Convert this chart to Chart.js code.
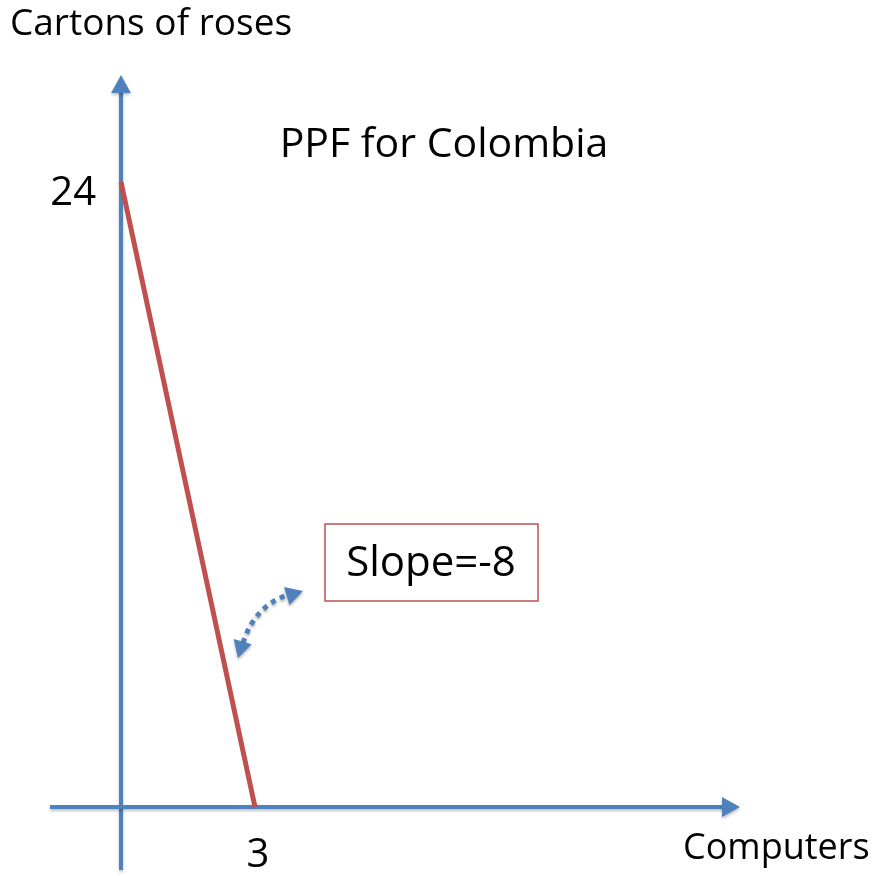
<!DOCTYPE html>
<html>
<head>
<meta charset="utf-8">
<script src="https://cdn.jsdelivr.net/npm/chart.js@4"></script>
<style>
  html, body { margin: 0; padding: 0; background: #fff; }
  #wrap { width: 876px; height: 876px; position: relative; }
</style>
</head>
<body>
<div id="wrap"><canvas id="ppf"></canvas></div>
<script>
// PPF endpoints (computers, roses)
const computers = [0, 3];
const roses = [24, 0];
const xTickLabels = ['3'];
const yTickLabels = ['24'];
const chartTitle = 'PPF for Colombia';
const yAxisTitle = 'Cartons of roses';
const xAxisTitle = 'Computers';
const slopeNote = 'Slope=-8';

const FONT = '"Open Sans", "Liberation Sans", sans-serif';
const BLUE = '#4f81bd';
const RED = '#c0504d';

function arrowHead(ctx, x, y, angle, size) {
    ctx.save();
    ctx.translate(x, y);
    ctx.rotate(angle);
    ctx.beginPath();
    ctx.moveTo(0, 0);
    ctx.lineTo(-size, -size * 0.55);
    ctx.lineTo(-size, size * 0.55);
    ctx.closePath();
    ctx.fill();
    ctx.restore();
}

// axes with arrows, tick labels, titles and slope note
const decorations = {
    id: 'decorations',
    beforeDatasetsDraw(chart) {
        const ctx = chart.ctx;
        const xs = chart.scales.x, ys = chart.scales.y;
        const a = chart.chartArea;
        const x0 = xs.getPixelForValue(0);
        const y0 = ys.getPixelForValue(0);
        ctx.save();
        ctx.shadowColor = 'rgba(0,0,0,0.25)';
        ctx.shadowBlur = 3;
        ctx.shadowOffsetY = 2;
        ctx.strokeStyle = BLUE;
        ctx.fillStyle = BLUE;
        ctx.lineWidth = 4;
        // y axis
        ctx.beginPath();
        ctx.moveTo(x0, a.bottom);
        ctx.lineTo(x0, a.top + 16);
        ctx.stroke();
        arrowHead(ctx, x0, a.top, -Math.PI / 2, 18);
        // x axis
        ctx.beginPath();
        ctx.moveTo(a.left, y0);
        ctx.lineTo(a.right - 16, y0);
        ctx.stroke();
        arrowHead(ctx, a.right, y0, 0, 18);
        ctx.restore();
    },
    afterDatasetsDraw(chart) {
        const ctx = chart.ctx;
        const xs = chart.scales.x, ys = chart.scales.y;
        ctx.save();
        ctx.fillStyle = '#000';
        ctx.textBaseline = 'middle';

        ctx.textAlign = 'left';
        ctx.font = '37px ' + FONT;
        ctx.fillText(yAxisTitle, 10, 24);
        ctx.font = '36px ' + FONT;
        ctx.fillText(xAxisTitle, 683, 849);
        ctx.textAlign = 'center';
        ctx.font = '41px ' + FONT;
        ctx.fillText(chartTitle, 444, 145);

        ctx.font = '40px ' + FONT;
        ctx.textAlign = 'right';
        ctx.fillText(yTickLabels[0], xs.getPixelForValue(0) - 25, ys.getPixelForValue(roses[0]) + 12);
        ctx.textAlign = 'center';
        ctx.fillText(xTickLabels[0], xs.getPixelForValue(computers[1]) + 3, 856);

        // slope note box
        ctx.strokeStyle = RED;
        ctx.lineWidth = 1.5;
        ctx.strokeRect(325, 524, 213, 77);
        ctx.font = '42px ' + FONT;
        ctx.fillText(slopeNote, 431, 564);

        // curved dotted double arrow
        ctx.shadowColor = 'rgba(0,0,0,0.3)';
        ctx.shadowBlur = 3;
        ctx.shadowOffsetY = 2;
        ctx.strokeStyle = BLUE;
        ctx.fillStyle = BLUE;
        ctx.lineWidth = 5;
        ctx.setLineDash([5, 5]);
        ctx.beginPath();
        ctx.moveTo(243, 643);
        ctx.quadraticCurveTo(255, 605, 290, 594);
        ctx.stroke();
        ctx.setLineDash([]);
        arrowHead(ctx, 303, 591, -0.3, 17);
        arrowHead(ctx, 238, 658, 1.85, 17);
        ctx.restore();
    }
};

new Chart(document.getElementById('ppf'), {
    type: 'scatter',
    data: {
        datasets: [{
            data: computers.map((c, i) => ({ x: c, y: roses[i] })),
            showLine: true,
            borderColor: RED,
            borderWidth: 5,
            pointRadius: 0
        }]
    },
    options: {
        responsive: true,
        maintainAspectRatio: false,
        animation: false,
        layout: { padding: { left: 50, right: 136, top: 75, bottom: 6 } },
        plugins: { legend: { display: false }, tooltip: { enabled: false } },
        scales: {
            x: { type: 'linear', display: false, min: -1.59, max: 13.86 },
            y: { type: 'linear', display: false, min: -2.42, max: 28.11 }
        }
    },
    plugins: [decorations]
});
</script>
</body>
</html>
